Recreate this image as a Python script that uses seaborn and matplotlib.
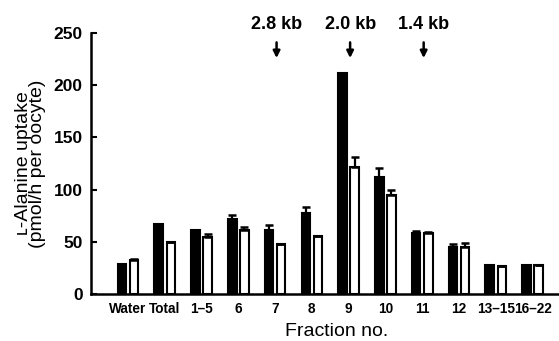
import matplotlib
matplotlib.use("Agg")
import matplotlib.pyplot as plt
import seaborn as sns
import pandas as pd
import numpy as np

# ---- data ----
categories = ["Water", "Total", "1–5", "6", "7", "8", "9", "10", "11", "12", "13–15", "16–22"]
black_vals = [29, 67, 61, 72, 61, 78, 212, 112, 58, 45, 28, 28]
black_err = [0, 0, 0, 3.5, 5, 5.5, 0, 9, 2.5, 3, 0, 0]
white_vals = [33, 50, 55, 61, 48, 56, 122, 95, 58, 45, 27, 28]
white_err = [1, 0, 2, 3, 0, 0, 9, 4.5, 1.5, 4, 0, 0]
series_names = ["Series A", "Series B"]
marker_cats = ["7", "9", "11"]
marker_labels = ["2.8 kb", "2.0 kb", "1.4 kb"]
yticks = [0, 50, 100, 150, 200, 250]

sns.set_style("ticks")
plt.rcParams["font.family"] = ["Liberation Sans", "DejaVu Sans"]
for k in ["text.color", "axes.labelcolor", "xtick.color", "ytick.color", "axes.edgecolor"]:
    plt.rcParams[k] = "black"

df = pd.DataFrame({
    "fraction": categories * 2,
    "uptake": black_vals + white_vals,
    "series": [series_names[0]] * len(categories) + [series_names[1]] * len(categories),
})
errs = {series_names[0]: black_err, series_names[1]: white_err}

fig = plt.figure(figsize=(5.59, 3.41), dpi=100)
ax = fig.add_axes([91 / 559, 1 - 294 / 341, 468 / 559, 261 / 341])

sns.barplot(data=df, x="fraction", y="uptake", hue="series", order=categories,
            hue_order=series_names, palette=["black", "white"], width=0.66, gap=0.3,
            errorbar=None, legend=False, ax=ax, edgecolor="black", linewidth=1.5,
            saturation=1)

for cont, name in zip(ax.containers, series_names):
    xs = [p.get_x() + p.get_width() / 2 for p in cont.patches]
    hs = [p.get_height() for p in cont.patches]
    e = errs[name]
    ax.errorbar(xs, hs, yerr=[np.zeros(len(e)), e], fmt="none", ecolor="black",
                elinewidth=1.6, capsize=3, capthick=1.8, zorder=3)

ax.set_ylim(0, 250)
ax.set_xlim(-1.006, 11.72)
ax.set_yticks(yticks)
ax.set_yticklabels([str(t) for t in yticks], fontsize=12.5, fontweight="bold")
for lab in ax.get_xticklabels():
    lab.set_fontsize(9.8)
    lab.set_fontweight("bold")
ax.tick_params(axis="y", direction="in", length=4, width=1.5, pad=6)
ax.tick_params(axis="x", length=0, pad=6)

for s in ["top", "right"]:
    ax.spines[s].set_visible(False)
for s in ["left", "bottom"]:
    ax.spines[s].set_linewidth(1.8)

ax.set_xlabel("Fraction no.", fontsize=14, va="center")
ax.xaxis.set_label_coords((337 - 91) / 468, (294 - 331) / 261)
ax.set_ylabel("ʟ-Alanine uptake\n(pmol/h per oocyte)", fontsize=14, va="center",
              linespacing=0.8)
ax.yaxis.set_label_coords((30.5 - 91) / 468, 0.5)

for cat, lab in zip(marker_cats, marker_labels):
    i = categories.index(cat)
    ax.text(i + 0.05, 258, lab, ha="center", va="center", fontsize=13,
            fontweight="bold", clip_on=False)
    ax.annotate("", xy=(i + 0.04, 226), xytext=(i + 0.04, 241),
                arrowprops=dict(arrowstyle="-|>", color="black", lw=1.8,
                                mutation_scale=10, shrinkA=0, shrinkB=0),
                annotation_clip=False)

fig.savefig("out.png", dpi=100)
